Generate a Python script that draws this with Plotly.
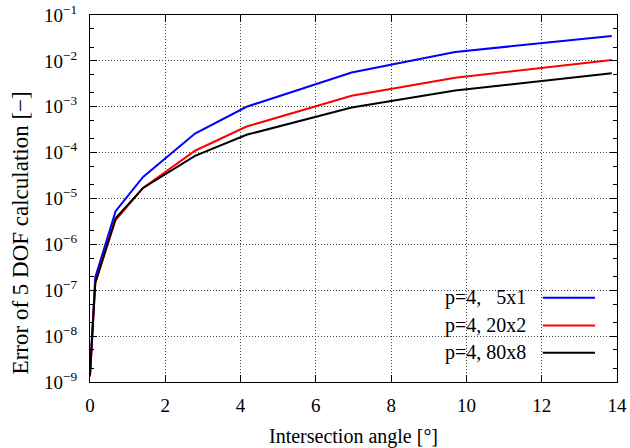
import plotly.graph_objects as go

# ---- data ----
angle = [0.0, 0.14, 0.68, 1.41, 2.79, 4.16, 6.95, 9.7, 13.86]
err_5x1 = [1.6e-9, 1.9e-7, 5.3e-6, 2.95e-5, 2.6e-4, 1.0e-3, 5.6e-3, 1.56e-2, 3.5e-2]
err_20x2 = [1.3e-9, 1.45e-7, 3.4e-6, 1.7e-5, 1.1e-4, 3.7e-4, 1.73e-3, 4.3e-3, 1.04e-2]
err_80x8 = [1.4e-9, 1.45e-7, 3.7e-6, 1.7e-5, 8.5e-5, 2.45e-4, 9.6e-4, 2.25e-3, 5.35e-3]

series_names = ["p=4,\u00a0\u00a0\u00a05x1", "p=4, 20x2", "p=4, 80x8"]
series_colors = ["#0000ff", "#ff0000", "#000000"]

x_ticks = [0, 2, 4, 6, 8, 10, 12, 14]
y_exps = [-9, -8, -7, -6, -5, -4, -3, -2, -1]
y_tickvals = [10.0 ** e for e in y_exps]
y_ticktext = ["10<sup>\u2212%d</sup>" % (-e) for e in y_exps]

x_title = "Intersection angle [°]"
y_title = "Error of 5 DOF calculation [\u2212]"

FONT = "Liberation Serif"

fig = go.Figure()
for name, ys, col in zip(series_names, [err_5x1, err_20x2, err_80x8], series_colors):
    fig.add_trace(go.Scatter(x=angle, y=ys, mode="lines", name=name,
                             line=dict(color=col, width=2), showlegend=False))

# plot area geometry in pixels (for legend/title placement)
L, R, T, B = 89.5, 617.0, 14.7, 382.5
W, H = R - L, B - T
def px(x):
    return (x - L) / W
def py(y):
    return (B - y) / H

shapes = [dict(type="rect", xref="paper", yref="paper",
               x0=px(411), x1=px(613), y0=py(378), y1=py(274),
               fillcolor="white", line=dict(width=0), layer="between")]
annotations = []
rows = [298, 326, 353.3]
for name, col, yy in zip(series_names, series_colors, rows):
    annotations.append(dict(xref="paper", yref="paper", x=px(528), y=py(yy),
                            xanchor="right", yanchor="middle", text=name,
                            showarrow=False, font=dict(family=FONT, size=20, color="black")))
    shapes.append(dict(type="line", xref="paper", yref="paper",
                       x0=px(542.7), x1=px(595), y0=py(yy), y1=py(yy),
                       line=dict(color=col, width=2), layer="above"))

annotations.append(dict(xref="paper", yref="paper", x=px(353), y=py(437),
                        xanchor="center", yanchor="middle", text=x_title, showarrow=False,
                        font=dict(family=FONT, size=20, color="black")))
annotations.append(dict(xref="paper", yref="paper", x=px(20), y=py(233),
                        xanchor="center", yanchor="middle", text=y_title, showarrow=False,
                        textangle=-90, font=dict(family=FONT, size=23, color="black")))

fig.update_layout(
    width=630, height=448,
    margin=dict(l=89.5, r=13, t=14.7, b=65.5, autoexpand=False),
    paper_bgcolor="white", plot_bgcolor="white",
    font=dict(family=FONT, size=19, color="black"),
    shapes=shapes, annotations=annotations,
)
fig.update_xaxes(
    range=[0, 14], tickvals=x_ticks, ticks="inside", ticklen=7, tickcolor="black",
    showline=True, linecolor="black", linewidth=1, mirror="ticks",
    showgrid=True, gridcolor="#444444", griddash="1px,2px", gridwidth=1,
    zeroline=False, automargin=False, ticklabelstandoff=6,
    tickfont=dict(family=FONT, size=19),
)
fig.update_yaxes(
    type="log", range=[-9, -1], tickvals=y_tickvals, ticktext=y_ticktext,
    ticks="inside", ticklen=7, tickcolor="black",
    minor=dict(ticks="inside", ticklen=4, tickcolor="black", showgrid=False),
    showline=True, linecolor="black", linewidth=1, mirror="ticks",
    showgrid=True, gridcolor="#444444", griddash="1px,2px", gridwidth=1,
    zeroline=False, automargin=False, ticklabelstandoff=8,
    tickfont=dict(family=FONT, size=19),
)

fig.write_html("out.html", config={"displayModeBar": False},
               post_script="document.body.style.margin='0';")
